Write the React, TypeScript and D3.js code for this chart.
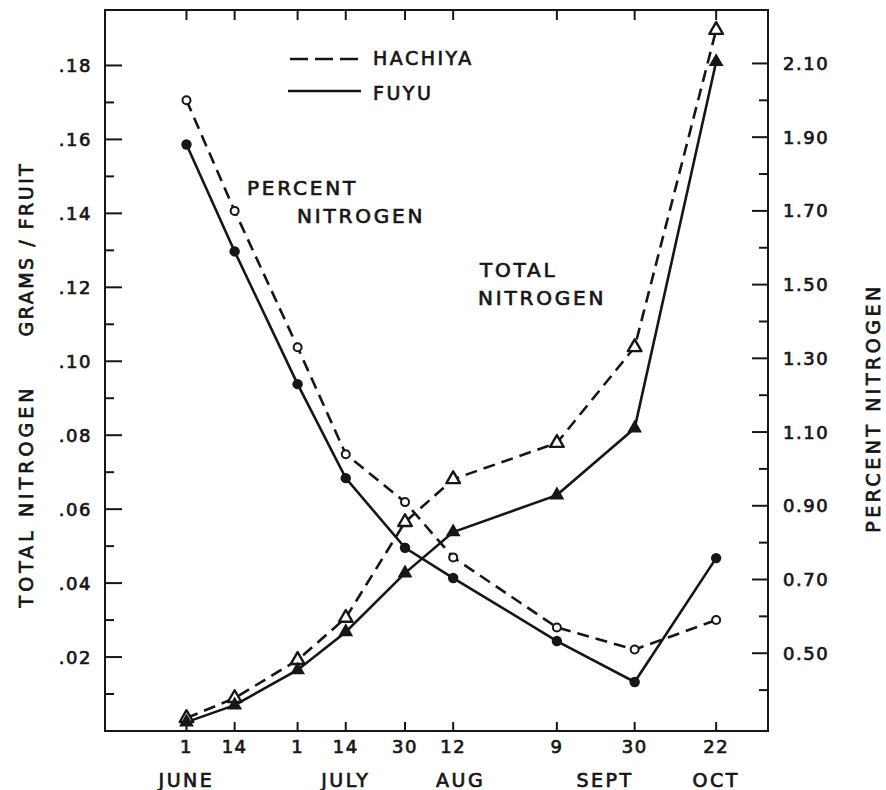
import React, {useEffect, useRef} from 'react';
import * as d3 from 'd3';

// sampling dates and the day numbers printed under them
const sampleDates = ["1950-06-01", "1950-06-14", "1950-07-01", "1950-07-14", "1950-07-30", "1950-08-12", "1950-09-09", "1950-09-30", "1950-10-22"];
const dayLabels = ["1", "14", "1", "14", "30", "12", "9", "30", "22"];
const monthLabels = ["JUNE", "JULY", "AUG", "SEPT", "OCT"];
const monthAnchors = ["1950-06-01", "1950-07-14", "1950-08-14", "1950-09-22", "1950-10-22"];

// percent nitrogen (right axis)
const hachiyaPercent = [2.00, 1.70, 1.33, 1.04, 0.91, 0.76, 0.57, 0.51, 0.59];
const fuyuPercent = [1.88, 1.59, 1.23, 0.975, 0.786, 0.704, 0.533, 0.422, 0.758];
// total nitrogen, grams per fruit (left axis)
const hachiyaTotal = [0.0035, 0.0089, 0.0192, 0.0306, 0.0565, 0.0681, 0.0779, 0.1038, 0.1896];
const fuyuTotal = [0.0024, 0.0070, 0.0165, 0.0268, 0.0427, 0.0538, 0.0638, 0.0819, 0.181];

const leftTicks = [0.02, 0.04, 0.06, 0.08, 0.10, 0.12, 0.14, 0.16, 0.18];
const leftMinor = [0.01, 0.03, 0.05, 0.07, 0.09, 0.11, 0.13, 0.15, 0.17];
const rightTicks = [0.5, 0.7, 0.9, 1.1, 1.3, 1.5, 1.7, 1.9, 2.1];
const rightMinor = [0.4, 0.6, 0.8, 1.0, 1.2, 1.4, 1.6, 1.8, 2.0];

const FONT = "'DejaVu Sans', sans-serif";
const ink = "#161616";

// lettering-guide look: plain sans with a thin outline to thicken strokes
function letter(sel: any, size: number, spacing: number) {
    return sel.attr("font-family", FONT).attr("font-size", size)
        .attr("letter-spacing", spacing).attr("fill", ink)
        .attr("stroke", ink).attr("stroke-width", 0.7);
}

export default function App() {
    const ref = useRef<SVGSVGElement>(null);

    useEffect(() => {
        const svg = d3.select(ref.current);
        svg.selectAll("*").remove();
        const margin = {top: 10, right: 118, bottom: 59, left: 105};
        const W = 886, H = 790;
        const width = W - margin.left - margin.right,
              height = H - margin.top - margin.bottom;
        const parse = d3.timeParse("%Y-%m-%d");
        const dates = sampleDates.map(d => parse(d) as Date);

        const x = d3.scaleTime()
            .domain([parse("1950-05-10") as Date, parse("1950-11-05") as Date])
            .range([0, width]);
        const yL = d3.scaleLinear().domain([0, 0.195]).range([height, 0]);
        const yR = d3.scaleLinear().domain([0.289, 2.245]).range([height, 0]);

        const g = svg.append("g").attr("transform", `translate(${margin.left},${margin.top})`);

        // frame
        g.append("rect").attr("width", width).attr("height", height)
            .attr("fill", "none").attr("stroke", ink).attr("stroke-width", 2);

        // left ticks (inward)
        g.selectAll(".lmaj").data(leftTicks).enter().append("line")
            .attr("x1", 0).attr("x2", 17).attr("y1", d => yL(d)).attr("y2", d => yL(d))
            .attr("stroke", ink).attr("stroke-width", 2);
        g.selectAll(".lmin").data(leftMinor).enter().append("line")
            .attr("x1", 0).attr("x2", 9).attr("y1", d => yL(d)).attr("y2", d => yL(d))
            .attr("stroke", ink).attr("stroke-width", 2);
        letter(g.selectAll(".ltxt").data(leftTicks).enter().append("text")
            .attr("x", -13).attr("y", d => yL(d)).attr("dy", "0.36em")
            .attr("text-anchor", "end"), 18, 1.5)
            .text(d => d3.format(".2f")(d).replace(/^0/, ""));

        // right ticks (inward)
        g.selectAll(".rmaj").data(rightTicks).enter().append("line")
            .attr("x1", width - 16).attr("x2", width).attr("y1", d => yR(d)).attr("y2", d => yR(d))
            .attr("stroke", ink).attr("stroke-width", 2);
        g.selectAll(".rmin").data(rightMinor).enter().append("line")
            .attr("x1", width - 9).attr("x2", width).attr("y1", d => yR(d)).attr("y2", d => yR(d))
            .attr("stroke", ink).attr("stroke-width", 2);
        letter(g.selectAll(".rtxt").data(rightTicks).enter().append("text")
            .attr("x", width + 15).attr("y", d => yR(d)).attr("dy", "0.36em"), 18, 1.5)
            .text(d => d3.format(".2f")(d));

        // date ticks top and bottom
        g.selectAll(".bt").data(dates).enter().append("line")
            .attr("x1", d => x(d)).attr("x2", d => x(d)).attr("y1", height).attr("y2", height - 9)
            .attr("stroke", ink).attr("stroke-width", 2);
        g.selectAll(".tt").data(dates).enter().append("line")
            .attr("x1", d => x(d)).attr("x2", d => x(d)).attr("y1", 0).attr("y2", 10)
            .attr("stroke", ink).attr("stroke-width", 2);
        letter(g.selectAll(".dtxt").data(dates).enter().append("text")
            .attr("x", d => x(d)).attr("y", height + 22)
            .attr("text-anchor", "middle"), 18, 1.5)
            .text((d, i) => dayLabels[i]);
        letter(g.selectAll(".mtxt").data(monthAnchors).enter().append("text")
            .attr("x", d => x(parse(d) as Date)).attr("y", height + 56)
            .attr("text-anchor", "middle"), 19, 2.5)
            .text((d, i) => monthLabels[i]);

        // series
        const series = [
            {vals: hachiyaPercent, y: yR, dash: "12,7", mark: "circle", open: true},
            {vals: fuyuPercent, y: yR, dash: null, mark: "circle", open: false},
            {vals: hachiyaTotal, y: yL, dash: "12,7", mark: "tri", open: true},
            {vals: fuyuTotal, y: yL, dash: null, mark: "tri", open: false},
        ];
        series.forEach(s => {
            const line = d3.line<number>()
                .x((d, i) => x(dates[i]))
                .y(d => s.y(d));
            g.append("path").datum(s.vals)
                .attr("d", line)
                .attr("fill", "none").attr("stroke", ink).attr("stroke-width", 2.6)
                .attr("stroke-dasharray", s.dash);
        });
        series.forEach(s => {
            const pts = g.selectAll(null).data(s.vals).enter();
            if (s.mark === "circle") {
                pts.append("circle")
                    .attr("cx", (d, i) => x(dates[i])).attr("cy", d => s.y(d))
                    .attr("r", s.open ? 4 : 5.2)
                    .attr("fill", s.open ? "white" : ink)
                    .attr("stroke", ink).attr("stroke-width", s.open ? 2 : 0);
            } else {
                const sym = d3.symbol().type(d3.symbolTriangle).size(s.open ? 80 : 95);
                pts.append("path")
                    .attr("transform", (d, i) => `translate(${x(dates[i])},${s.y(d)})`)
                    .attr("d", sym)
                    .attr("fill", s.open ? "white" : ink)
                    .attr("stroke", ink).attr("stroke-width", s.open ? 2.4 : 0)
                    .attr("stroke-linejoin", "round");
            }
        });

        // legend
        const lg = svg.append("g");
        lg.append("line").attr("x1", 290).attr("x2", 362).attr("y1", 59).attr("y2", 59)
            .attr("stroke", ink).attr("stroke-width", 2.6).attr("stroke-dasharray", "18,7");
        lg.append("line").attr("x1", 288).attr("x2", 361).attr("y1", 91).attr("y2", 91)
            .attr("stroke", ink).attr("stroke-width", 2.6);
        letter(lg.append("text").attr("x", 373).attr("y", 65), 19, 2.5).text("HACHIYA");
        letter(lg.append("text").attr("x", 373).attr("y", 100), 19, 2.5).text("FUYU");

        // in-plot labels
        const notes = [
            {t: "PERCENT", x: 247, y: 195},
            {t: "NITROGEN", x: 297, y: 223},
            {t: "TOTAL", x: 480, y: 277},
            {t: "NITROGEN", x: 478, y: 305},
        ];
        letter(svg.append("g").selectAll("text").data(notes).enter().append("text")
            .attr("x", d => d.x).attr("y", d => d.y), 20, 2.8)
            .text(d => d.t);

        // axis titles
        letter(svg.append("text")
            .attr("transform", "translate(33,496) rotate(-90)")
            .attr("text-anchor", "middle"), 19, 4)
            .text("TOTAL  NITROGEN");
        letter(svg.append("text")
            .attr("transform", "translate(33,249) rotate(-90)")
            .attr("text-anchor", "middle"), 19, 2.5)
            .text("GRAMS / FRUIT");
        letter(svg.append("text")
            .attr("transform", "translate(880,408) rotate(-90)")
            .attr("text-anchor", "middle"), 19, 3.5)
            .text("PERCENT  NITROGEN");
    }, []);

    return (
        <svg ref={ref} width={886} height={790}
             style={{position: 'absolute', left: 0, top: 0, background: 'white'}} />
    );
}
